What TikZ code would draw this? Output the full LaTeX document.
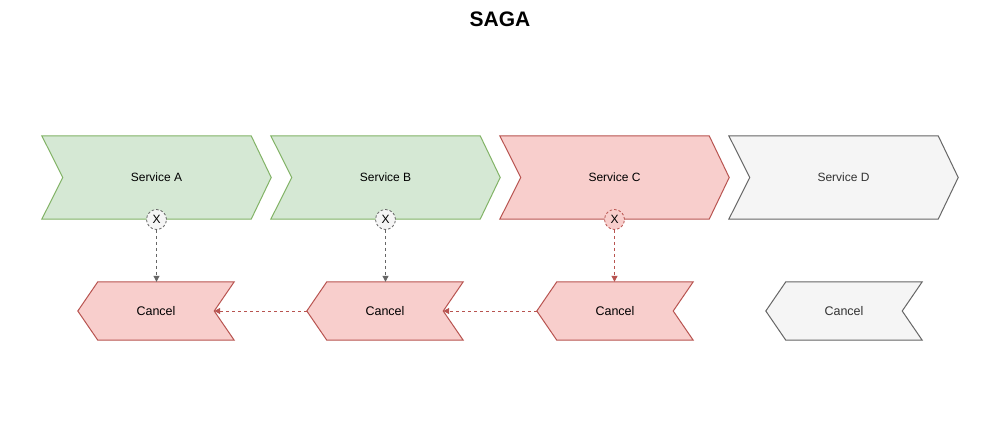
\documentclass[tikz,border=0pt]{standalone}
\usepackage{fontspec}
\setmainfont{Liberation Sans}
\usetikzlibrary{arrows.meta}
\definecolor{gfill}{HTML}{D5E8D4}
\definecolor{gline}{HTML}{82B366}
\definecolor{rfill}{HTML}{F8CECC}
\definecolor{rline}{HTML}{B85450}
\definecolor{nfill}{HTML}{F5F5F5}
\definecolor{nline}{HTML}{666666}
\definecolor{ntext}{HTML}{333333}
\tikzset{
  svcbox/.style={minimum width=229pt, minimum height=83pt, inner sep=0pt, font=\fontsize{12}{14}\selectfont},
  cancelbox/.style={minimum width=156pt, minimum height=58pt, inner sep=0pt, font=\fontsize{12.5}{14}\selectfont},
  xmark/.style={circle, minimum size=20pt, inner sep=0pt, dashed, dash pattern=on 2.5pt off 2pt, line width=0.8pt, font=\fontsize{12}{14}\selectfont},
  link/.style={dash pattern=on 3pt off 3pt, line width=1pt, -{Triangle[width=6pt,length=6pt]}},
}
\newcommand{\svcshape}[3]{%
  \filldraw[fill=#2, draw=#3, line width=1pt, line join=miter]
    (#1.north west) -- ([xshift=-20pt]#1.north east) -- (#1.east) --
    ([xshift=-20pt]#1.south east) -- (#1.south west) -- ([xshift=21pt]#1.west) -- cycle;}
\newcommand{\cancelshape}[3]{%
  \filldraw[fill=#2, draw=#3, line width=1pt, line join=miter]
    ([xshift=20pt]#1.north west) -- (#1.north east) -- ([xshift=-20pt]#1.east) --
    (#1.south east) -- ([xshift=20pt]#1.south west) -- (#1.west) -- cycle;}
\begin{document}
\begin{tikzpicture}[x=1pt, y=-1pt]
\useasboundingbox (0,0) rectangle (1000,420);
\fill[white] (0,0) rectangle (1000,420);
\node[font=\bfseries\fontsize{21}{24}\selectfont] (title) at (500,19.5) {SAGA};
% service boxes (text nodes)
\node[svcbox] (sa) at (156.5,177.5) {};
\node[svcbox] (sb) at (385.5,177.5) {};
\node[svcbox] (sc) at (614.5,177.5) {};
\node[svcbox] (sd) at (843.5,177.5) {};
\svcshape{sa}{gfill}{gline}
\svcshape{sb}{gfill}{gline}
\svcshape{sc}{rfill}{rline}
\svcshape{sd}{nfill}{nline}
\node[svcbox] at (sa) {Service A};
\node[svcbox] at (sb) {Service B};
\node[svcbox] at (sc) {Service C};
\node[svcbox, text=ntext] at (sd) {Service D};
% cancel boxes
\node[cancelbox] (ca) at (156,311) {};
\node[cancelbox] (cb) at (385,311) {};
\node[cancelbox] (cc) at (615,311) {};
\node[cancelbox] (cd) at (844,311) {};
\cancelshape{ca}{rfill}{rline}
\cancelshape{cb}{rfill}{rline}
\cancelshape{cc}{rfill}{rline}
\cancelshape{cd}{nfill}{nline}
\node[cancelbox] at (ca) {Cancel};
\node[cancelbox] at (cb) {Cancel};
\node[cancelbox] at (cc) {Cancel};
\node[cancelbox, text=ntext] at (cd) {Cancel};
% x marks
\node[xmark, fill=nfill, draw=nline] (xa) at (156.5,219.5) {X};
\node[xmark, fill=nfill, draw=nline] (xb) at (385.5,219.5) {X};
\node[xmark, fill=rfill, draw=rline] (xc) at (614.5,219.5) {X};
% connectors
\draw[link, draw=nline] (xa.south) -- (ca.north -| xa.south);
\draw[link, draw=nline] (xb.south) -- (cb.north -| xb.south);
\draw[link, draw=rline] (xc.south) -- (cc.north -| xc.south);
\draw[link, draw=rline] (cc.west) -- ([xshift=-20pt]cb.east);
\draw[link, draw=rline] (cb.west) -- ([xshift=-20pt]ca.east);
\end{tikzpicture}
\end{document}
